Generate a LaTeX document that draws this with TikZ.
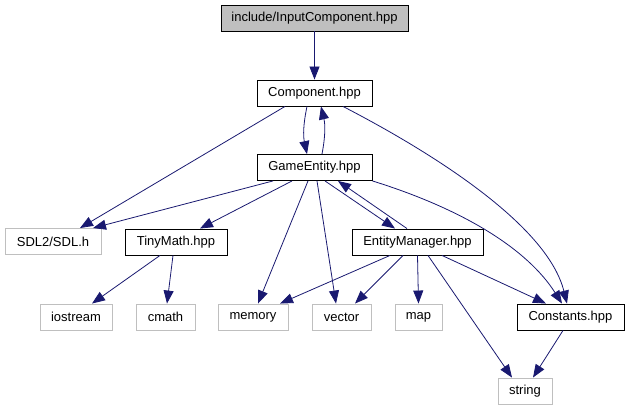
\documentclass[tikz,border=0pt]{standalone}
\usepackage{fontspec}
\setmainfont{Liberation Sans}
\usepackage{xcolor}
\usetikzlibrary{arrows.meta}
\definecolor{edgeblue}{HTML}{191970}
\definecolor{boxgray}{HTML}{BFBFBF}

\begin{document}
\begin{tikzpicture}[x=1pt, y=-1pt,
  every node/.style={font=\fontsize{13}{15}\selectfont, minimum height=26pt, inner sep=0pt},
  hdr/.style={draw=black, line width=0.9pt, fill=white},
  syshdr/.style={draw=boxgray, line width=0.9pt, fill=white},
  root/.style={draw=black, line width=0.9pt, fill=boxgray},
  dep/.style={-{Triangle[length=13pt, width=10pt]}, draw=edgeblue, line width=0.8pt}]
\useasboundingbox (0,0) rectangle (629,411);

\node[root, minimum width=187pt] (input) at (314.5,18) {include/InputComponent.hpp};
\node[hdr, minimum width=115pt] (comp) at (314.5,93) {Component.hpp};
\node[hdr, minimum width=115pt] (game) at (314.5,167.5) {GameEntity.hpp};
\node[syshdr, minimum width=96pt] (sdl) at (53,241.5) {SDL2/SDL.h};
\node[hdr, minimum width=102pt] (tiny) at (176,242) {TinyMath.hpp};
\node[hdr, minimum width=131pt] (emgr) at (417.5,242) {EntityManager.hpp};
\node[syshdr, minimum width=72pt] (iostream) at (76,317) {iostream};
\node[syshdr, minimum width=59pt] (cmath) at (165.5,317) {cmath};
\node[syshdr, minimum width=70pt] (memory) at (253,317) {memory};
\node[syshdr, minimum width=59pt] (vector) at (341.5,317) {vector};
\node[syshdr, minimum width=47pt] (map) at (418.5,317) {map};
\node[hdr, minimum width=107pt] (consts) at (570.5,317) {Constants.hpp};
\node[syshdr, minimum width=54pt] (string) at (525,391) {string};

\draw[dep] (input) -- (comp);
\draw[dep] ([xshift=-29.5pt]comp.south) -- ([xshift=27pt]sdl.north);
\draw[dep] ([xshift=-7.5pt]comp.south) to[bend right=12] ([xshift=-7.5pt]game.north);
\draw[dep] ([xshift=7.5pt]game.north) to[bend right=12] ([xshift=6.5pt]comp.south);
\draw[dep] ([xshift=28.5pt]comp.south) .. controls +(85,44) and +(-20,-80) .. ([xshift=-3.5pt]consts.north);
\draw[dep] ([xshift=-41.5pt]game.south) -- ([xshift=40pt]sdl.north);
\draw[dep] ([xshift=-22.5pt]game.south) -- ([xshift=24pt]tiny.north);
\draw[dep] ([xshift=-6.5pt]game.south) -- ([xshift=5pt]memory.north);
\draw[dep] ([xshift=2.5pt]game.south) -- ([xshift=-5.5pt]vector.north);
\draw[dep] ([xshift=10.5pt]game.south) -- ([xshift=-22.5pt]emgr.north);
\draw[dep] ([xshift=-10.5pt]emgr.north) -- ([xshift=23.5pt]game.south);
\draw[dep] (game.south east) .. controls +(90,28) and +(-35,-55) .. ([xshift=-8.5pt]consts.north);
\draw[dep] ([xshift=-27.5pt]emgr.south) -- ([xshift=27pt]memory.north);
\draw[dep] ([xshift=-14.5pt]emgr.south) -- ([xshift=13.5pt]vector.north);
\draw[dep] (emgr.south) -- (map.north);
\draw[dep] ([xshift=10.5pt]emgr.south) -- ([xshift=-13pt]string.north);
\draw[dep] ([xshift=24.5pt]emgr.south) -- ([xshift=-24.5pt]consts.north);
\draw[dep] ([xshift=-7.5pt]consts.south) -- ([xshift=8pt]string.north);
\draw[dep] ([xshift=-16pt]tiny.south) -- ([xshift=16pt]iostream.north);
\draw[dep] ([xshift=-3pt]tiny.south) -- ([xshift=1.5pt]cmath.north);
\end{tikzpicture}
\end{document}
